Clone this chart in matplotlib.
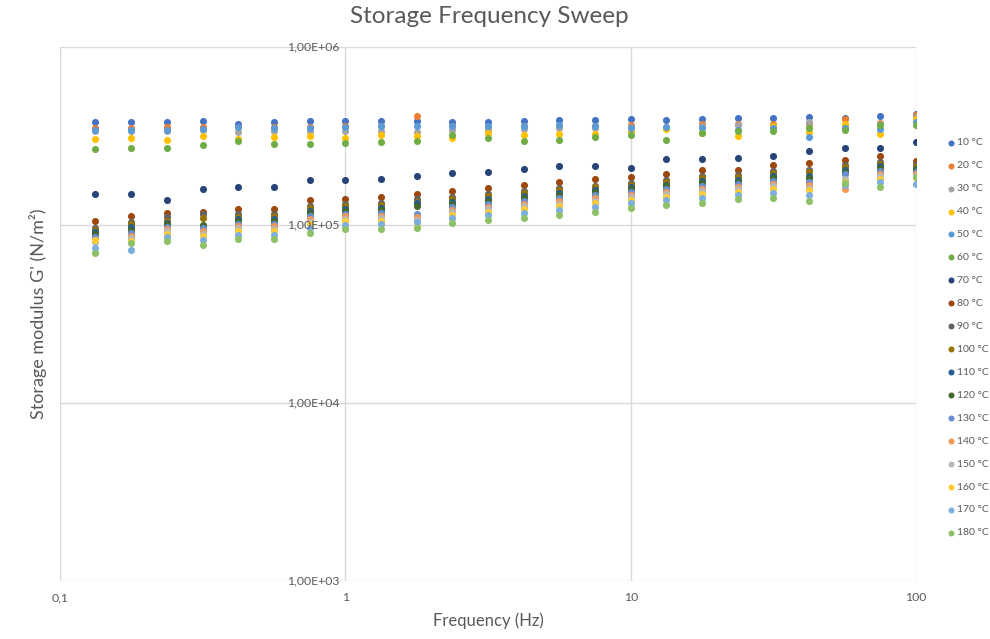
import matplotlib
matplotlib.use("Agg")
import matplotlib.pyplot as plt
from matplotlib.ticker import NullLocator

plt.rcParams['font.family'] = ['Lato', 'DejaVu Sans']

# Oscillation frequencies (Hz)
frequency = [0.133, 0.178, 0.237, 0.316, 0.422, 0.562, 0.75, 1.0, 1.33, 1.78, 2.37, 3.16,
             4.22, 5.62, 7.5, 10.0, 13.3, 17.8, 23.7, 31.6, 42.2, 56.2, 75.0, 100.0]

temperatures = ["10 °C", "20 °C", "30 °C", "40 °C", "50 °C", "60 °C", "70 °C", "80 °C", "90 °C",
                "100 °C", "110 °C", "120 °C", "130 °C", "140 °C", "150 °C", "160 °C", "170 °C", "180 °C"]

# Storage modulus G' (N/m²) per temperature
g10 = [379000, 379000, 379000, 384000, 369000, 379000, 384000, 384000, 384000, 384000, 379000, 379000,
       384000, 389000, 389000, 394000, 389000, 394000, 399000, 399000, 404000, 399000, 410000, 420000]
g20 = [351000, 351000, 355000, 355000, 355000, 355000, 355000, 360000, 360000, 410000, 360000, 355000,
       360000, 360000, 360000, 365000, 355000, 369000, 369000, 369000, 369000, 394000, 374000, 415000]
g30 = [337000, 337000, 337000, 342000, 333000, 337000, 337000, 337000, 337000, 333000, 342000, 342000,
       346000, 351000, 351000, 355000, 351000, 360000, 365000, 360000, 379000, 360000, 369000, 404000]
g40 = [304000, 308000, 300000, 316000, 304000, 312000, 316000, 308000, 320000, 316000, 308000, 329000,
       320000, 325000, 325000, 337000, 346000, 329000, 316000, 360000, 333000, 369000, 325000, 394000]
g50 = [342000, 342000, 342000, 346000, 355000, 351000, 351000, 355000, 360000, 360000, 360000, 360000,
       360000, 365000, 360000, 351000, 355000, 351000, 342000, 351000, 312000, 351000, 346000, 379000]
g60 = [267000, 271000, 271000, 281000, 296000, 285000, 285000, 289000, 293000, 296000, 320000, 308000,
       296000, 300000, 312000, 320000, 300000, 329000, 337000, 337000, 351000, 342000, 365000, 365000]
g70 = [149000, 149000, 138000, 159000, 164000, 164000, 179000, 179000, 181000, 189000, 196000, 199000,
       206000, 215000, 215000, 209000, 235000, 235000, 238000, 244000, 260000, 271000, 271000, 293000]
g80 = [105300, 112400, 116800, 118300, 123000, 123000, 138200, 140000, 143600, 149300, 155200, 161400,
       167800, 174400, 181300, 186000, 193400, 203700, 203700, 217300, 223000, 231800, 244200, 228900]
g90 = [96200, 104000, 110900, 115300, 115300, 115300, 127900, 131200, 132900, 140000, 143600, 149300,
       155200, 161400, 165600, 172200, 179000, 188500, 190900, 201100, 203700, 217300, 225900, 217300]
g100 = [93700, 101300, 105300, 109500, 110900, 112400, 124600, 127900, 129500, 134600, 140000, 145500,
        151300, 157300, 163500, 167800, 174400, 183700, 186000, 195900, 198500, 211800, 220200, 211800]
g110 = [91300, 97400, 102600, 98700, 108100, 108100, 119900, 123000, 124600, 132900, 134600, 140000,
        145500, 151300, 157300, 163500, 167800, 176700, 179000, 188500, 188500, 203700, 214500, 206300]
g120 = [89000, 93700, 101300, 100000, 105300, 105300, 116800, 119900, 121400, 127900, 131200, 136400,
        141800, 147400, 153200, 159300, 165600, 172200, 174400, 183700, 183700, 198500, 209000, 203700]
g130 = [85600, 90200, 97400, 96200, 101300, 101300, 112400, 115300, 116800, 115300, 126200, 131200,
        136400, 141800, 147400, 153200, 159300, 165600, 169900, 176700, 174400, 193400, 201100, 198500]
g140 = [82400, 86700, 94900, 92500, 98700, 98700, 108100, 112400, 112400, 110900, 121400, 126200,
        131200, 136400, 141800, 147400, 153200, 159300, 163500, 169900, 167800, 159300, 193400, 193400]
g150 = [80300, 84500, 92500, 89000, 96200, 94900, 104000, 108100, 109500, 106700, 118300, 123000,
        127900, 131200, 136400, 143600, 149300, 155200, 159300, 165600, 161400, 181300, 188500, 188500]
g160 = [82400, 81300, 89000, 86700, 92500, 92500, 101300, 105300, 105300, 98700, 113800, 118300,
        123000, 127900, 132900, 138200, 143600, 149300, 153200, 159300, 157300, 174400, 181300, 183700]
g170 = [74300, 72400, 85600, 82400, 87900, 87900, 96200, 100000, 101300, 104000, 109500, 113800,
        116800, 121400, 126200, 132900, 138200, 141800, 147400, 151300, 147400, 167800, 174400, 169900]
g180 = [69600, 79200, 81300, 77200, 83400, 83400, 90200, 94900, 94900, 96200, 102600, 106700,
        109500, 113800, 118300, 124600, 129500, 132900, 140000, 141800, 136400, 172200, 163500, 186000]

series = [g10, g20, g30, g40, g50, g60, g70, g80, g90,
          g100, g110, g120, g130, g140, g150, g160, g170, g180]

colors = ["#4472C4", "#ED7D31", "#A5A5A5", "#FFC000", "#5B9BD5", "#70AD47",
          "#264478", "#9E480E", "#636363", "#997300", "#255E91", "#43682B",
          "#698ED0", "#F1975A", "#B7B7B7", "#FFCD33", "#7CAFDD", "#8CC168"]

y_ticks = [1e3, 1e4, 1e5, 1e6]
y_tick_labels = ["1,00E+03", "1,00E+04", "1,00E+05", "1,00E+06"]
x_ticks = [0.1, 1, 10, 100]
x_tick_labels = ["0,1", "1", "10", "100"]

text_color = "#595959"
grid_color = "#D9D9D9"

fig = plt.figure(figsize=(9.9, 6.39), dpi=100)
ax = fig.add_axes([60 / 990, 1 - 581 / 639, (916 - 60) / 990, (581 - 47) / 639])

handles = []
for vals, lab, col in zip(series, temperatures, colors):
    h = ax.scatter(frequency, vals, s=26, color=col, label=lab, zorder=3, linewidths=0)
    handles.append(h)

ax.set_xscale('log')
ax.set_yscale('log')
ax.set_xlim(0.1, 100)
ax.set_ylim(1e3, 1e6)
ax.xaxis.set_minor_locator(NullLocator())
ax.yaxis.set_minor_locator(NullLocator())
ax.set_xticks(x_ticks)
ax.set_xticklabels(x_tick_labels)
ax.set_yticks(y_ticks)
ax.set_yticklabels([])
ax.tick_params(axis='both', length=0, labelsize=8.8, labelcolor=text_color)
ax.tick_params(axis='x', pad=8)
for sp in ax.spines.values():
    sp.set_visible(False)
ax.grid(True, which='major', color=grid_color, linewidth=1, zorder=0)
ax.set_axisbelow(True)

# value-axis labels sit beside the axis crossing at 1 Hz
for v, lab in zip(y_ticks, y_tick_labels):
    ax.annotate(lab, xy=(1, v), xytext=(-4, 0), textcoords='offset points',
                ha='right', va='center', fontsize=8.8, color=text_color, zorder=5)

ax.set_xlabel("Frequency (Hz)", fontsize=12, color=text_color, labelpad=7)
ax.set_ylabel("Storage modulus G' (N/m²)", fontsize=13, color=text_color, labelpad=6)
fig.suptitle("Storage Frequency Sweep", fontsize=17.5, color=text_color, x=0.494, y=0.99)

leg = fig.legend(handles=handles, loc='upper left', bbox_to_anchor=(942 / 990, 1 - 134 / 639),
                 frameon=False, fontsize=7.5, labelspacing=1.31, handletextpad=0.0,
                 handlelength=1.0, borderaxespad=0, markerscale=0.85)
for t in leg.get_texts():
    t.set_color(text_color)

fig.savefig("out.png", dpi=100)
